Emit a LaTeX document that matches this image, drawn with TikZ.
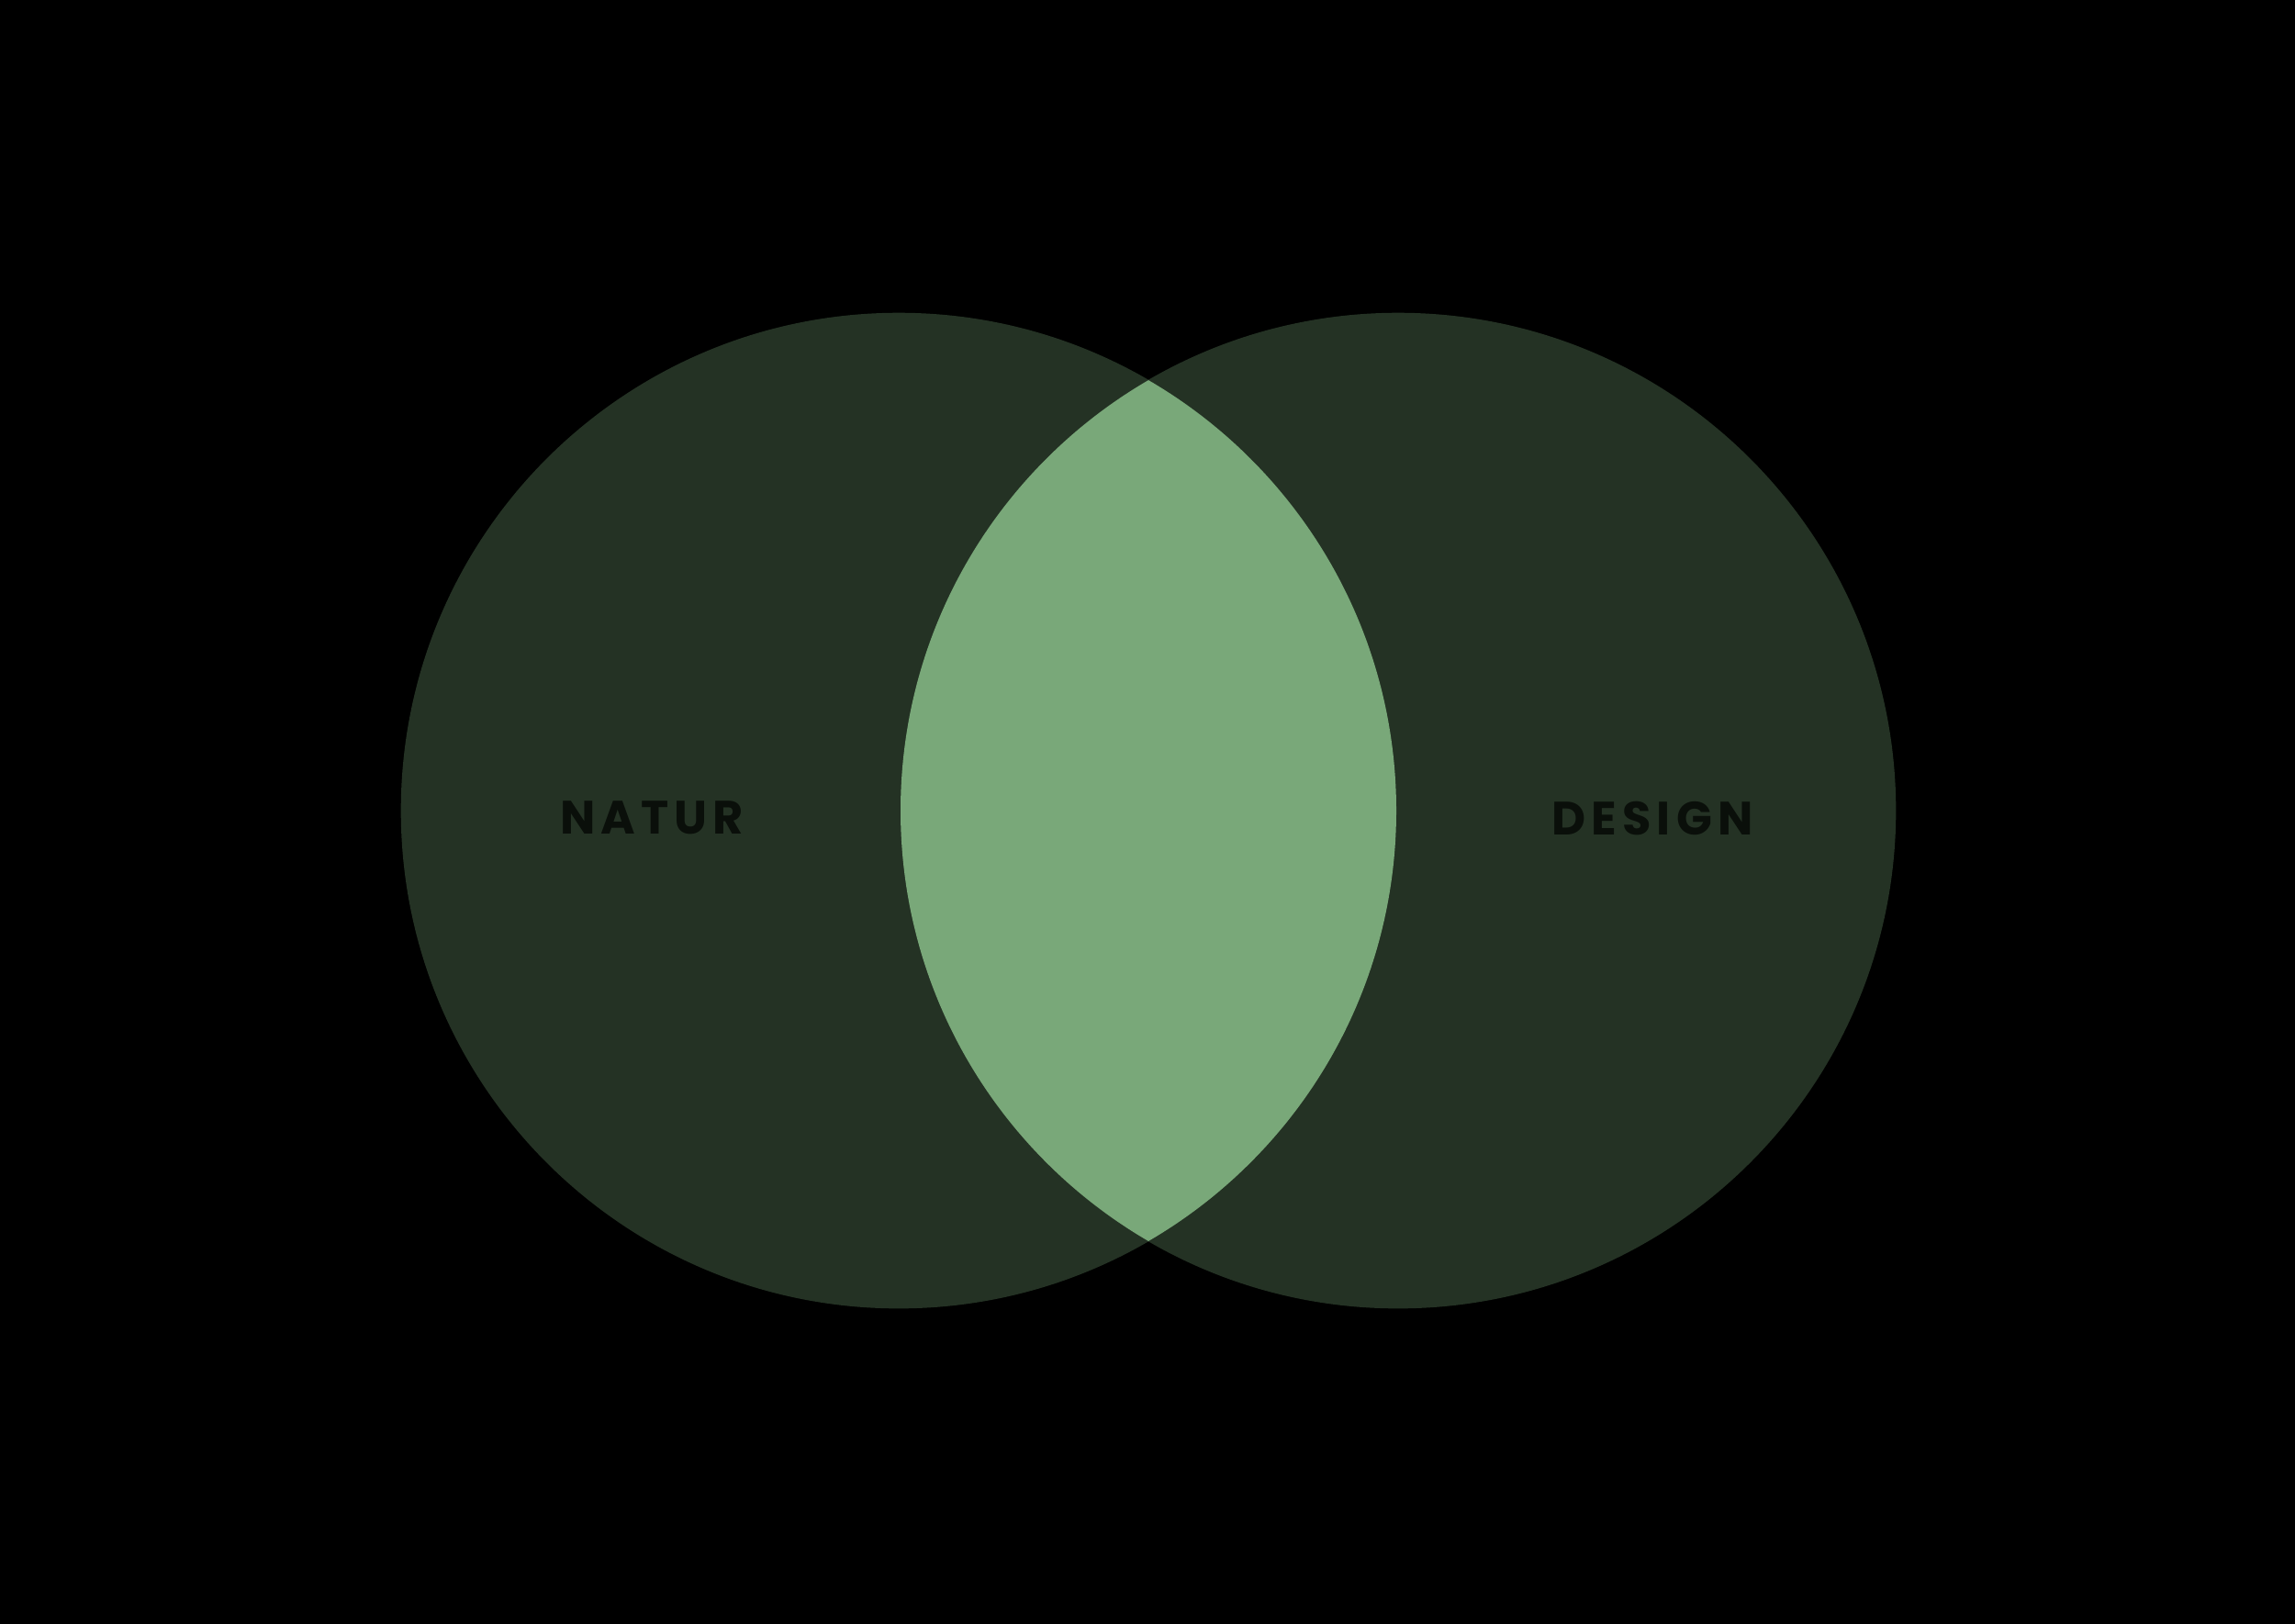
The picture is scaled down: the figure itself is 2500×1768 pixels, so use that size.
\documentclass[tikz,border=0pt]{standalone}
\usepackage{fontspec}
\newfontfamily\labelfont[LetterSpace=12]{Poppins}
\definecolor{darkgreen}{HTML}{243224}
\definecolor{lightgreen}{HTML}{79A879}
\definecolor{labelcol}{HTML}{0A0F0A}
\begin{document}
\begin{tikzpicture}[x=0.01cm,y=-0.01cm,
  setcircle/.style={circle, fill=darkgreen, draw=none, minimum size=10.84cm, inner sep=0pt},
  setlabel/.style={text=labelcol, font=\labelfont\bfseries\fontsize{14.5}{16}\selectfont, inner sep=0pt}]
\useasboundingbox (0,0) rectangle (2500,1768);
\fill[black] (-10,-10) rectangle (2510,1778);
\node[setcircle] (natur) at (979,883) {};
\node[setcircle] (design) at (1523,883) {};
\begin{scope}
  \clip (979,883) circle[radius=542];
  \fill[lightgreen] (1523,883) circle[radius=542];
\end{scope}
\node[setlabel] (naturlabel) at (710,891) {NATUR};
\node[setlabel] (designlabel) at (1800,891) {DESIGN};
\end{tikzpicture}
\end{document}
